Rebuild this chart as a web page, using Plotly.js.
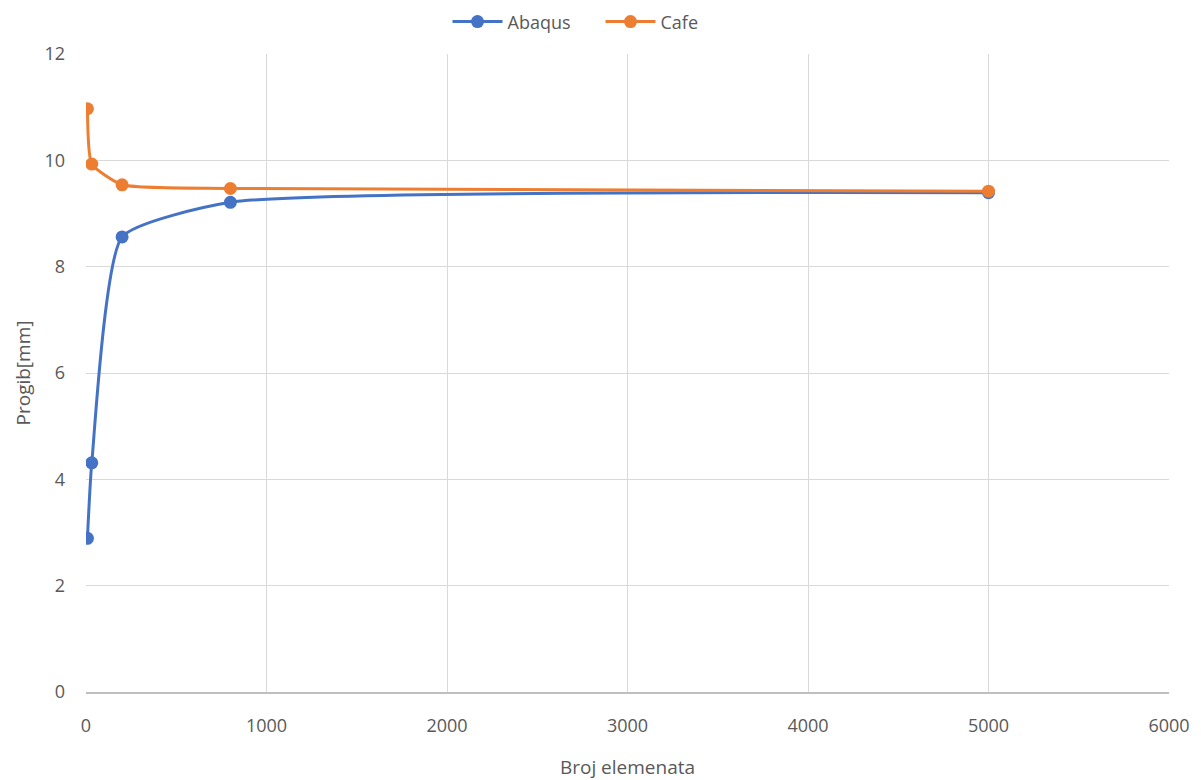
<!DOCTYPE html>
<html>
<head>
<meta charset="utf-8">
<script src="https://cdn.plot.ly/plotly-3.0.1.min.js"></script>
<style>html,body{margin:0;padding:0;background:#fff;}#chart{width:1201px;height:780px;}</style>
</head>
<body>
<div id="chart"></div>
<script>
const brojElemenata = [8, 32, 200, 800, 5000];
const abaqus = [2.89, 4.31, 8.56, 9.21, 9.39];
const cafe = [10.97, 9.93, 9.54, 9.47, 9.42];
const xTicks = [0, 1000, 2000, 3000, 4000, 5000, 6000];
const yTicks = [0, 2, 4, 6, 8, 10, 12];

const fontFam = '"Open Sans", "Liberation Sans", sans-serif';
const traces = [
  {x: brojElemenata, y: abaqus, name: 'Abaqus', type: 'scatter', mode: 'lines+markers',
   line: {color: '#4472C4', width: 3, shape: 'spline', smoothing: 0.5}, marker: {color: '#4472C4', size: 13}},
  {x: brojElemenata, y: cafe, name: 'Cafe', type: 'scatter', mode: 'lines+markers',
   line: {color: '#ED7D31', width: 3, shape: 'spline', smoothing: 0.5}, marker: {color: '#ED7D31', size: 13}}
];
const layout = {
  width: 1201, height: 780,
  margin: {l: 86, r: 32, t: 54, b: 88},
  paper_bgcolor: '#fff', plot_bgcolor: '#fff',
  font: {family: fontFam, color: '#595959', size: 18},
  showlegend: true,
  legend: {orientation: 'h', x: 0.5, xanchor: 'center', xref: 'container', y: 0.972, yanchor: 'middle', yref: 'container',
           itemwidth: 50, entrywidth: 88, font: {size: 18, color: '#595959'}},
  xaxis: {range: [0, 6000], tickvals: xTicks, ticktext: xTicks.map(String), showgrid: true, gridcolor: '#d9d9d9', gridwidth: 1,
          zeroline: false, showline: true, linecolor: '#bfbfbf', linewidth: 1.5, ticks: '', ticklen: 0,
          ticklabelstandoff: 17, tickfont: {size: 18}, title: {text: 'Broj elemenata', font: {size: 19}, standoff: 24}},
  yaxis: {range: [0, 12], tickvals: yTicks, ticktext: yTicks.map(String), showgrid: true, gridcolor: '#d9d9d9', gridwidth: 1,
          zeroline: false, showline: false, ticks: '', ticklabelstandoff: 20, tickfont: {size: 18},
          title: {text: 'Progib[mm]', font: {size: 19}, standoff: 8}}
};
Plotly.newPlot('chart', traces, layout, {displayModeBar: false});
</script>
</body>
</html>
